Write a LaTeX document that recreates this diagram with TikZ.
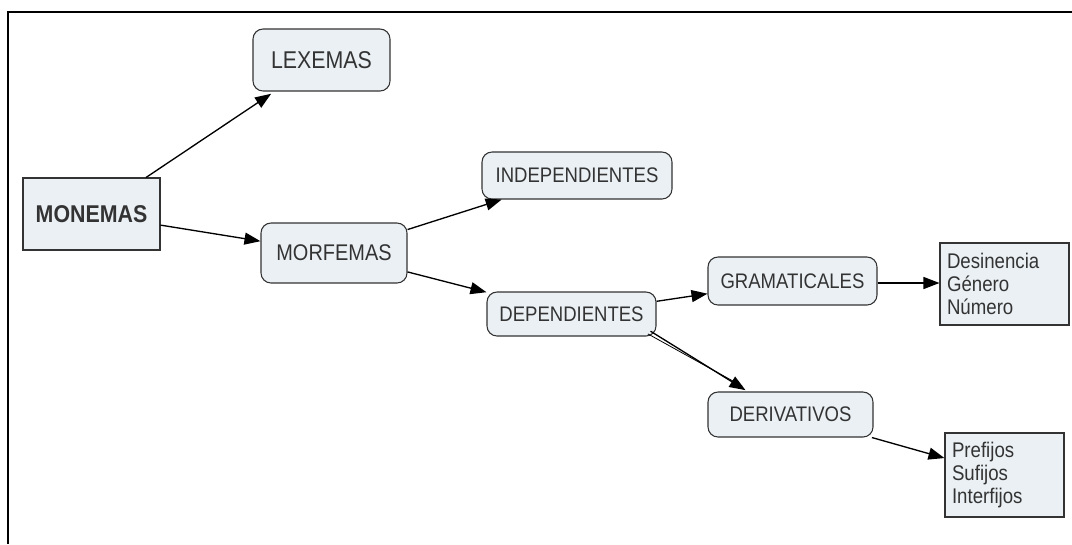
\documentclass[tikz,border=0pt]{standalone}
\usepackage{fontspec}
\setmainfont{Liberation Sans}[FakeStretch=0.88]
\usetikzlibrary{arrows.meta}
\definecolor{boxfill}{HTML}{EAF0F4}
\definecolor{ink}{HTML}{333333}
\tikzset{
  concept/.style={draw=ink, line width=0.8pt, fill=boxfill, rounded corners=7.5pt, inner sep=0pt, text=ink, font=\fontsize{15.8}{18}\selectfont},
  rootbox/.style={draw=ink, line width=0.8pt, fill=boxfill, inner sep=0pt, text=ink, font=\fontsize{18.2}{20}\selectfont\bfseries},
  listbox/.style={draw=ink, line width=0.8pt, fill=boxfill, inner sep=0pt, text=ink, align=left, font=\fontsize{15.9}{17.3}\selectfont},
  link/.style={draw=black, line width=1pt, -{Triangle[length=12pt,width=9pt]}},
  thinlink/.style={draw=black, line width=0.6pt},
  frame/.style={draw=black, line width=1.6pt}
}
\begin{document}
\begin{tikzpicture}[x=0.75pt,y=-0.75pt]
\useasboundingbox (0,0) rectangle (1072,544);
\draw[frame] (8,544) -- (8,12) -- (1072,12);

\node[concept, minimum width=102.75pt, minimum height=46.5pt, font=\fontsize{18.2}{20}\selectfont] (lex) at (321.5,60) {LEXEMAS};
\node[rootbox, minimum width=102.75pt, minimum height=54pt] (mon) at (91.5,214) {MONEMAS};
\node[concept, minimum width=109.5pt, minimum height=45pt, font=\fontsize{17}{19}\selectfont] (mor) at (334,253) {MORFEMAS};
\node[concept, minimum width=142.5pt, minimum height=35.25pt] (ind) at (577,175.5) {INDEPENDIENTES};
\node[concept, minimum width=126.75pt, minimum height=33pt] (dep) at (571.5,314) {DEPENDIENTES};
\node[concept, minimum width=126.75pt, minimum height=36pt] (gra) at (792.5,281) {GRAMATICALES};
\node[concept, minimum width=123.75pt, minimum height=33.75pt] (der) at (790.5,414.5) {DERIVATIVOS};
\node[listbox, minimum width=96.75pt, minimum height=61.5pt, text width=86.25pt] (des) at (1004.5,284) {Desinencia\\Género\\Número};
\node[listbox, minimum width=89.25pt, minimum height=63pt, text width=78.75pt] (pre) at (1004.5,475) {Prefijos\\Sufijos\\Interfijos};

\draw[link, shorten >=3pt] (mon) -- (lex);
\draw[link] (mon) -- (mor);
\draw[link] (mor) -- (ind);
\draw[link] (mor) -- (dep);
\draw[link] (dep) -- (gra);
\draw[link] (gra.east |- 0,283) -- (des.west |- 0,283);
\draw[thinlink] ([xshift=-6.5pt,yshift=2pt]dep.south east) -- ([xshift=26pt,yshift=4pt]der.north west);
\draw[link] ([xshift=-4.5pt,yshift=4pt]dep.south east) -- ([xshift=28.5pt,yshift=1pt]der.north west);
\draw[link] (der) -- (pre);
\end{tikzpicture}
\end{document}
